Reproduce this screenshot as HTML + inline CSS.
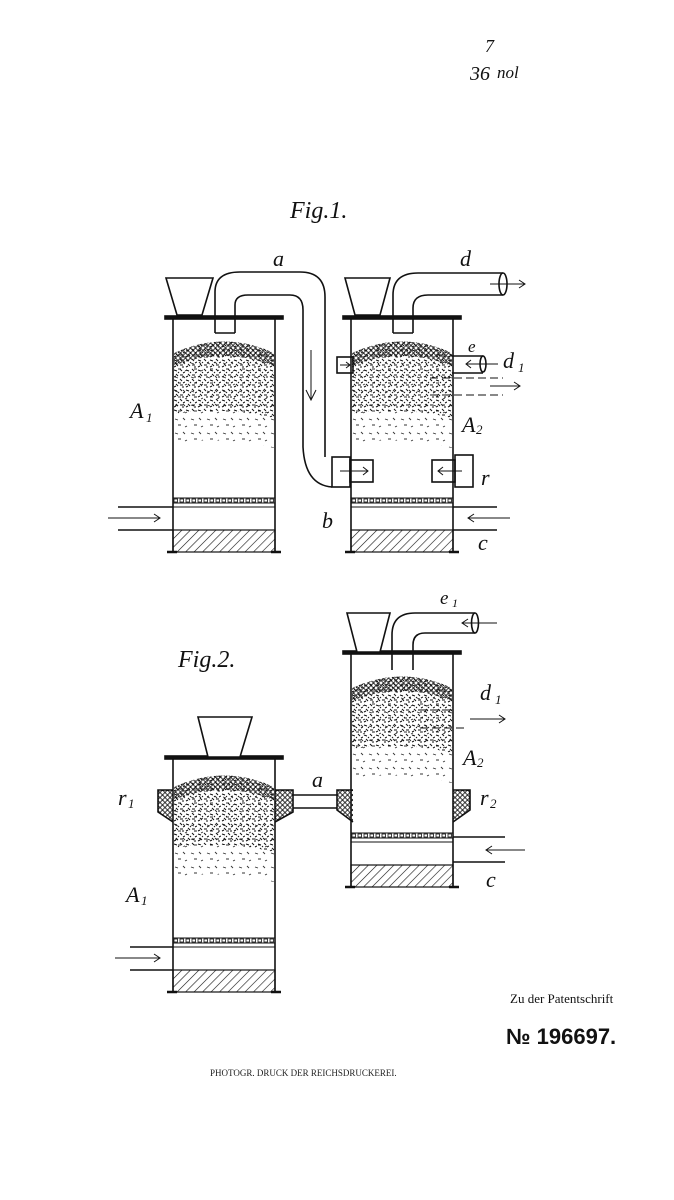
<!DOCTYPE html>
<html><head><meta charset="utf-8"><style>
html,body{margin:0;padding:0;background:#fff;}
body{width:674px;height:1200px;overflow:hidden;position:relative;}
svg{position:absolute;left:0;top:0;}
.t{font-family:"Liberation Serif",serif;font-style:italic;fill:#111;}
</style></head><body>
<svg width="674" height="1200" viewBox="0 0 674 1200" xmlns="http://www.w3.org/2000/svg">
<defs>
<pattern id="grit" width="12" height="10" patternUnits="userSpaceOnUse">
<path d="M1 2l3 1M7 1l2 2M10 5l2-1M3 6l2 2M7 7l3 0M1 9l2-1M9 9l2 0M5 4l1 1" stroke="#111" stroke-width="1" fill="none"/>
</pattern>
<pattern id="grit2" width="16" height="14" patternUnits="userSpaceOnUse">
<path d="M2 3l3 1M10 2l2 2M5 9l3 0M12 11l2-1" stroke="#333" stroke-width="0.9" fill="none"/>
</pattern>
<pattern id="cob" width="5" height="5" patternUnits="userSpaceOnUse">
<circle cx="2.5" cy="2.5" r="1.9" fill="none" stroke="#111" stroke-width="0.9"/>
</pattern>
<pattern id="hatch" width="6" height="6" patternUnits="userSpaceOnUse" patternTransform="rotate(45)">
<line x1="0" y1="0" x2="0" y2="6" stroke="#111" stroke-width="1.2"/>
</pattern>
<pattern id="grate" width="6" height="5" patternUnits="userSpaceOnUse">
<rect x="1" y="1" width="3.5" height="3" fill="none" stroke="#111" stroke-width="0.8"/>
</pattern>
<g id="vessel" stroke="#111" fill="none" stroke-width="1.6">
<rect x="-8" y="-2" width="118" height="3" fill="#111"/>
<line x1="0" y1="0" x2="0" y2="234"/>
<line x1="102" y1="0" x2="102" y2="234"/>
<line x1="-6" y1="234" x2="4" y2="234" stroke-width="2.5"/>
<line x1="98" y1="234" x2="108" y2="234" stroke-width="2.5"/>
<rect x="0" y="180" width="102" height="5" fill="url(#grate)" stroke-width="1"/>
<line x1="0" y1="189" x2="102" y2="189" stroke-width="1"/>
<rect x="0" y="212" width="102" height="22" fill="url(#hatch)" stroke-width="1.2"/>
</g>
<g id="pile">
<path d="M1 35 Q51 12 101 35 V130 Q51 118 1 125 Z" fill="url(#grit2)"/>
<path d="M1 35 Q51 12 101 35 V100 Q51 88 1 96 Z" fill="url(#grit)"/>
<path d="M1 35 Q51 12 101 35 V48 Q51 28 1 48 Z" fill="url(#cob)"/>
</g>
</defs>

<text x="485" y="52" class="t" font-size="18">7</text>
<text x="470" y="80" class="t" font-size="20">36</text>
<text x="497" y="78" class="t" font-size="17">nol</text>

<!-- FIG 1 -->
<text x="290" y="218" class="t" font-size="24">Fig.1.</text>
<use href="#vessel" x="173" y="318"/>
<use href="#pile" x="173" y="318"/>
<use href="#vessel" x="351" y="318"/>
<use href="#pile" x="351" y="318"/>
<g stroke="#111" fill="none" stroke-width="1.6">
<polygon points="166,278 213,278 202,315 177,315" fill="#fff"/>
<polygon points="345,278 390,278 380,315 355,315" fill="#fff"/>
<path d="M215,333 V292 Q215,272 240,272 H300 Q325,272 325,297 V457"/>
<path d="M235,333 V305 Q235,295 248,295 H290 Q303,295 303,310 V447 Q305,485 332,487"/>
<line x1="215" y1="333" x2="235" y2="333"/>
<path d="M311,350 V400 M306,390 L311,400 L316,390" stroke-width="1"/>
<rect x="332" y="457" width="18" height="30"/>
<rect x="350" y="460" width="23" height="22"/>
<path d="M340,471 H368 M363,467 L368,471 L363,475" stroke-width="1"/>
<rect x="455" y="455" width="18" height="32"/>
<rect x="432" y="460" width="23" height="22"/>
<path d="M462,471 H438 M443,467 L438,471 L443,475" stroke-width="1"/>
<path d="M393,333 V295 Q393,273 418,273 H503"/>
<path d="M413,333 V308 Q413,295 428,295 H503"/>
<line x1="393" y1="333" x2="413" y2="333"/>
<ellipse cx="503" cy="284" rx="4" ry="11"/>
<path d="M490,284 H525 M519,280 L525,284 L519,288" stroke-width="1"/>
<rect x="337" y="357" width="16" height="16"/>
<path d="M340,365 H350 M346,362 L350,365 L346,368" stroke-width="1"/>
<path d="M452,356 H483 M452,373 H483" />
<ellipse cx="483" cy="364" rx="3" ry="8"/>
<path d="M498,364 H466 M471,360 L466,364 L471,368" stroke-width="1"/>
<path d="M430,378 H503 M430,395 H503" stroke-dasharray="8,4" stroke-width="1"/>
<path d="M490,386 H520 M514,382 L520,386 L514,390" stroke-width="1"/>
<path d="M118,507 H173 M118,530 H173"/>
<path d="M108,518 H160 M154,514 L160,518 L154,522" stroke-width="1"/>
<path d="M453,507 H497 M453,530 H497"/>
<path d="M510,518 H468 M474,514 L468,518 L474,522" stroke-width="1"/>
</g>
<g class="t" font-size="22">
<text x="273" y="266">a</text>
<text x="460" y="266">d</text>
<text x="468" y="352" font-size="17">e</text>
<text x="503" y="368">d</text><text x="518" y="372" font-size="13">1</text>
<text x="130" y="418">A</text><text x="146" y="422" font-size="13">1</text>
<text x="462" y="432">A</text><text x="476" y="434" font-size="13">2</text>
<text x="481" y="485">r</text>
<text x="322" y="528">b</text>
<text x="478" y="550">c</text>
</g>

<!-- FIG 2 -->
<text x="178" y="667" class="t" font-size="24">Fig.2.</text>
<use href="#vessel" x="173" y="758"/>
<use href="#pile" x="173" y="752"/>
<use href="#vessel" x="351" y="653"/>
<use href="#pile" x="351" y="653"/>
<g stroke="#111" fill="none" stroke-width="1.6">
<polygon points="198,717 252,717 240,757 208,757" fill="#fff"/>
<polygon points="347,613 390,613 380,652 357,652" fill="#fff"/>
<path d="M392,670 V635 Q392,613 415,613 H475"/>
<path d="M413,670 V645 Q413,633 425,633 H475"/>
<ellipse cx="475" cy="623" rx="3.5" ry="10"/>
<path d="M497,623 H462 M468,619 L462,623 L468,627" stroke-width="1"/>
<path d="M173,790 H158 V812 L173,822" fill="url(#cob)"/>
<path d="M275,790 H293 V812 L275,822" fill="url(#cob)"/>
<path d="M353,790 H337 V810 L353,822" fill="url(#cob)"/>
<path d="M453,790 H470 V810 L453,822" fill="url(#cob)"/>
<path d="M293,795 H337 M293,808 H337"/>
<path d="M420,710 H453 M420,728 H465" stroke-dasharray="8,4" stroke-width="1"/>
<path d="M470,719 H505 M499,715 L505,719 L499,723" stroke-width="1"/>
<path d="M453,837 H505 M453,862 H505"/>
<path d="M525,850 H486 M492,846 L486,850 L492,854" stroke-width="1"/>
<path d="M130,947 H173 M130,970 H173"/>
<path d="M115,958 H160 M154,954 L160,958 L154,962" stroke-width="1"/>
</g>
<g class="t" font-size="22">
<text x="440" y="604" font-size="19">e</text><text x="452" y="607" font-size="12">1</text>
<text x="480" y="700">d</text><text x="495" y="704" font-size="13">1</text>
<text x="463" y="765">A</text><text x="477" y="767" font-size="13">2</text>
<text x="312" y="787">a</text>
<text x="118" y="805">r</text><text x="128" y="808" font-size="13">1</text>
<text x="480" y="805">r</text><text x="490" y="808" font-size="13">2</text>
<text x="486" y="887">c</text>
<text x="126" y="902">A</text><text x="141" y="905" font-size="13">1</text>
</g>

<text x="510" y="1003" font-family="Liberation Serif,serif" font-size="13" fill="#111">Zu der Patentschrift</text>
<text x="506" y="1044" font-family="Liberation Sans,sans-serif" font-size="22" font-weight="bold" fill="#111">№ 196697.</text>
<text x="210" y="1076" font-family="Liberation Serif,serif" font-size="9" fill="#222">PHOTOGR. DRUCK DER REICHSDRUCKEREI.</text>
</svg>
</body></html>
